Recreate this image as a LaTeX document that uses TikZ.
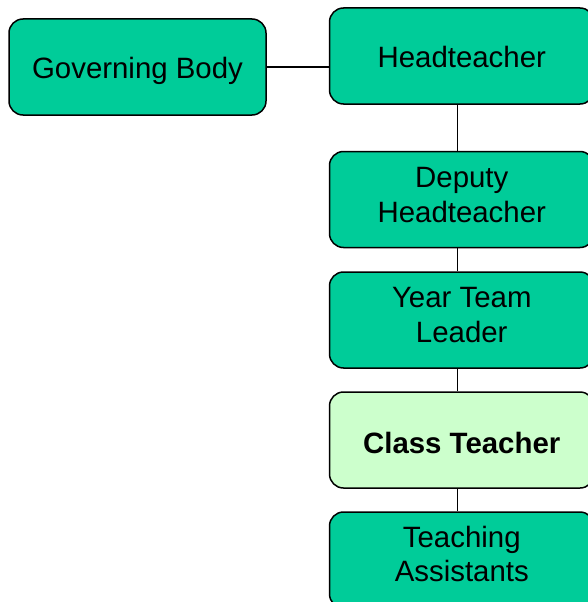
\documentclass[tikz,border=0pt]{standalone}
\usepackage{fontspec}
\setmainfont{Liberation Sans}
\definecolor{boxgreen}{RGB}{0,204,153}
\definecolor{boxlight}{RGB}{204,255,204}
\newcommand{\capstrut}{\rule[-5.95pt]{0pt}{32.95pt}}
\begin{document}
\begin{tikzpicture}[x=1pt,y=-1pt,
  orgbox/.style={draw=black, line width=1.5pt, rounded corners=14pt, fill=boxgreen,
    minimum width=264.5pt, minimum height=96pt, inner sep=0pt},
  lightbox/.style={orgbox, fill=boxlight},
  boxtext/.style={inner sep=0pt, align=center,
    font=\fontsize{29.4pt}{34.3pt}\selectfont},
  boldtext/.style={boxtext, font=\fontsize{29.4pt}{34.3pt}\selectfont\bfseries},
  link/.style={draw=black, line width=1.5pt}]
\useasboundingbox (0,0) rectangle (587,602);
\coordinate (spine) at (457.5,0);
\node[orgbox, minimum width=257pt] (gov) at (137.5,67) {};
\node[orgbox] (head) at (461.75,56) {};
\node[orgbox] (dep) at (461.75,199.5) {};
\node[orgbox] (year) at (461.75,320) {};
\node[lightbox] (cls) at (461.75,440) {};
\node[orgbox] (ta) at (461.75,560) {};
\node[boxtext] (govt) at ([yshift=-1pt]gov.center) {\capstrut Governing Body};
\node[boxtext] (headt) at ([yshift=-1.2pt]head.center) {\capstrut Headteacher};
\node[boxtext] (dept) at ([yshift=5pt]dep.center) {\capstrut Deputy\\\capstrut Headteacher};
\node[boxtext] (yeart) at ([yshift=5.5pt]year.center) {\capstrut Year Team\\\capstrut Leader};
\node[boldtext] (clst) at ([yshift=-2.5pt]cls.center) {\capstrut Class Teacher};
\node[boxtext] (tat) at ([yshift=6pt]ta.center) {\capstrut Teaching\\\capstrut Assistants};
\draw[link] (gov.east) -- (gov.east -| head.west);
\draw[link] (head.south -| spine) -- (dep.north -| spine);
\draw[link] (dep.south -| spine) -- (year.north -| spine);
\draw[link] (year.south -| spine) -- (cls.north -| spine);
\draw[link] (cls.south -| spine) -- (ta.north -| spine);
\end{tikzpicture}
\end{document}
